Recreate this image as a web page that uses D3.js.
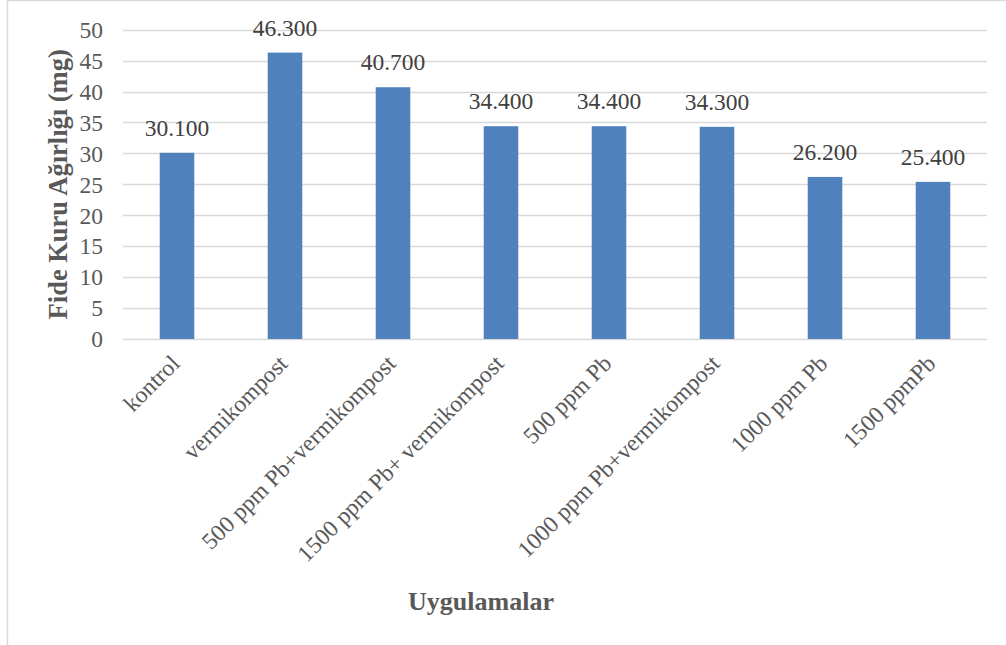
<!DOCTYPE html>
<html>
<head>
<meta charset="utf-8">
<script src="https://cdn.jsdelivr.net/npm/d3@7"></script>
<style>
  html, body { margin: 0; padding: 0; background: #fff; }
  svg { display: block; }
</style>
</head>
<body>
<svg id="chart" width="1006" height="645"></svg>
<script>
// Treatments and seedling dry weight (mg)
const categories = [
  "kontrol",
  "vermikompost",
  "500 ppm Pb+vermikompost",
  "1500 ppm Pb+ vermikompost",
  "500 ppm Pb",
  "1000 ppm Pb+vermikompost",
  "1000 ppm Pb",
  "1500 ppmPb"
];
const values = [30.1, 46.3, 40.7, 34.4, 34.4, 34.3, 26.2, 25.4];
const yTicks = [0, 5, 10, 15, 20, 25, 30, 35, 40, 45, 50];
const yTitle = "Fide Kuru Ağırlığı (mg)";
const xTitle = "Uygulamalar";

const svg = d3.select("#chart");
const font = "'Liberation Serif', 'Times New Roman', serif";
const textColor = "#595959";

// outer chart frame
svg.append("rect")
  .attr("x", 7.5).attr("y", 0.5)
  .attr("width", 1010).attr("height", 660)
  .attr("fill", "none").attr("stroke", "#d9d9d9").attr("stroke-width", 1.5);

const plot = { left: 123, right: 987, top: 29.7, bottom: 339 };

const x = d3.scaleBand()
  .domain(categories)
  .range([plot.left, plot.right])
  .paddingInner(0.68).paddingOuter(0.34);

const y = d3.scaleLinear().domain([0, 50]).range([plot.bottom, plot.top]);

// horizontal gridlines
svg.append("g")
  .selectAll("line")
  .data(yTicks)
  .join("line")
  .attr("x1", plot.left).attr("x2", plot.right)
  .attr("y1", d => Math.round(y(d)) + 0.5).attr("y2", d => Math.round(y(d)) + 0.5)
  .attr("stroke", "#d9d9d9").attr("stroke-width", 1.3);

// y axis labels
const yAxis = d3.axisLeft(y).tickValues(yTicks).tickSize(0).tickPadding(0);
const gy = svg.append("g").attr("transform", `translate(${plot.left - 20},0)`).call(yAxis);
gy.select(".domain").remove();
gy.selectAll("text")
  .attr("font-family", font).attr("font-size", 23.5).attr("fill", textColor)
  .attr("dy", "0.33em");

// bars
svg.append("g")
  .selectAll("rect")
  .data(values)
  .join("rect")
  .attr("x", (d, i) => x(categories[i]))
  .attr("width", x.bandwidth())
  .attr("y", d => y(d))
  .attr("height", d => y(0) - y(d))
  .attr("fill", "#4F81BD");

// value labels above bars
svg.append("g")
  .selectAll("text")
  .data(values)
  .join("text")
  .attr("x", (d, i) => x(categories[i]) + x.bandwidth() / 2)
  .attr("y", d => y(d) - 17)
  .attr("text-anchor", "middle")
  .attr("font-family", font).attr("font-size", 23.5).attr("fill", "#404040")
  .text(d => d3.format(".3f")(d));

// category labels, rotated
const xAxis = d3.axisBottom(x).tickSize(0).tickPadding(0);
const gx = svg.append("g").attr("transform", `translate(0,${plot.bottom})`).call(xAxis);
gx.select(".domain").remove();
gx.selectAll("text")
  .attr("font-family", font).attr("font-size", 23.5).attr("fill", textColor)
  .attr("text-anchor", "end")
  .attr("dy", null).attr("y", null)
  .attr("transform", "translate(4,26) rotate(-45)");

// axis titles
svg.append("text")
  .attr("transform", `translate(67,${(plot.top + plot.bottom) / 2}) rotate(-90)`)
  .attr("text-anchor", "middle")
  .attr("font-family", font).attr("font-size", 26.5).attr("font-weight", "bold")
  .attr("fill", textColor)
  .text(yTitle);

svg.append("text")
  .attr("x", 481).attr("y", 610)
  .attr("text-anchor", "middle")
  .attr("font-family", font).attr("font-size", 26).attr("font-weight", "bold")
  .attr("fill", textColor)
  .text(xTitle);
</script>
</body>
</html>
